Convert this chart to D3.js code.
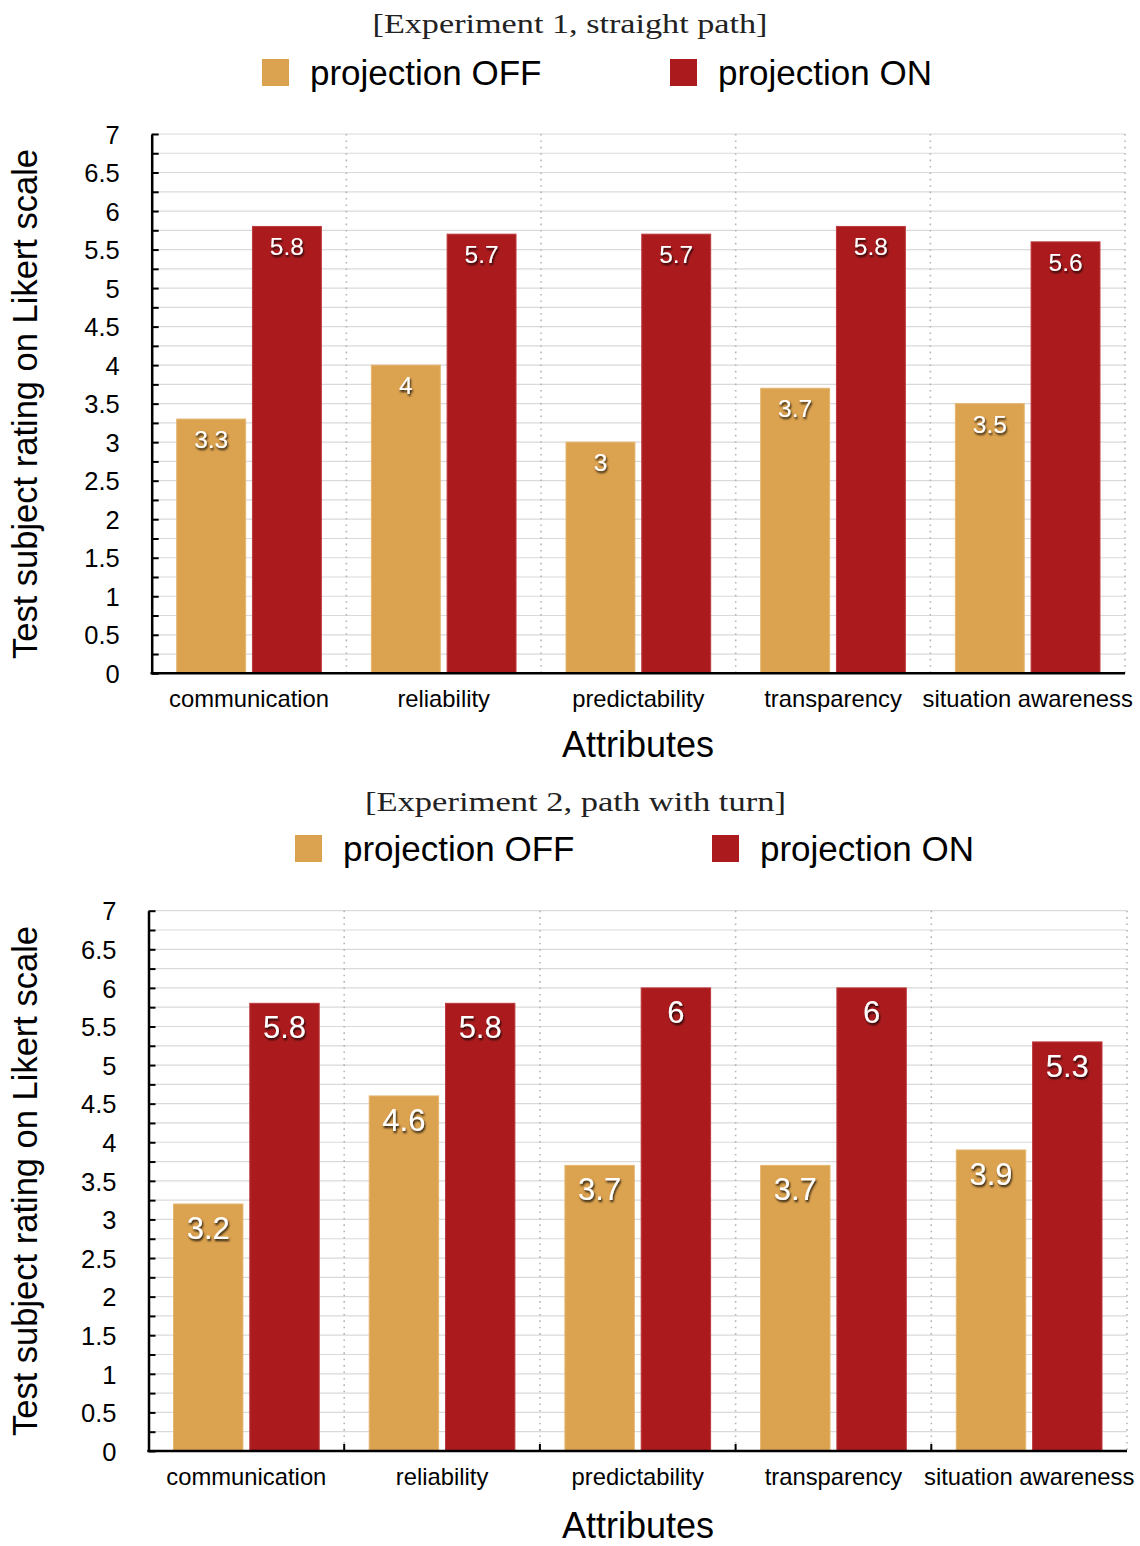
<!DOCTYPE html>
<html>
<head>
<meta charset="utf-8">
<script src="https://cdn.jsdelivr.net/npm/d3@7"></script>
<style>
  html, body { margin: 0; padding: 0; background: #fff; }
  svg { display: block; }
  .sans { font-family: "Liberation Sans", Arial, Helvetica, sans-serif; }
  .serif { font-family: "Liberation Serif", "Times New Roman", serif; }
</style>
</head>
<body>
<script>
// Attribute ratings (Likert scale) for the two experiments
const categories = ["communication", "reliability", "predictability", "transparency", "situation awareness"];
const seriesNames = ["projection OFF", "projection ON"];
const exp1Off = [3.3, 4, 3, 3.7, 3.5];
const exp1On  = [5.8, 5.7, 5.7, 5.8, 5.6];
const exp2Off = [3.2, 4.6, 3.7, 3.7, 3.9];
const exp2On  = [5.8, 5.8, 6, 6, 5.3];
const yTickLabels = [0, 0.5, 1, 1.5, 2, 2.5, 3, 3.5, 4, 4.5, 5, 5.5, 6, 6.5, 7];
const yMinorTicks = d3.range(0, 29).map(i => i * 0.25);
const titles = ["[Experiment 1, straight path]", "[Experiment 2, path with turn]"];
const xTitle = "Attributes";
const yTitle = "Test subject rating on Likert scale";

const colors = { "projection OFF": "#DBA24F", "projection ON": "#AB1B1E" };
const strokes = { "projection OFF": "#E4B670", "projection ON": "#BC3A3D" };

const W = 1140, H = 1546;
const svg = d3.select("body").append("svg").attr("width", W).attr("height", H);

const defs = svg.append("defs");
const f = defs.append("filter").attr("id", "labelShadow")
  .attr("x", "-30%").attr("y", "-30%").attr("width", "160%").attr("height", "160%");
f.append("feDropShadow").attr("dx", 1).attr("dy", 2).attr("stdDeviation", 1.2)
  .attr("flood-color", "#000").attr("flood-opacity", 0.85);

// Layout of each panel
const panels = [
  { title: titles[0], off: exp1Off, on: exp1On,
    titleX: 570, titleW: 395, titleY: 33, legendY: 59, legendX: [262, 670],
    left: 151.7, right: 1125, top: 134, bottom: 673.3,
    labelSize: 24.5, labelOffset: 29, sepTicks: false,
    yTitleY: 404, catY: 707, xTitleY: 757 },
  { title: titles[1], off: exp2Off, on: exp2On,
    titleX: 575.5, titleW: 421, titleY: 811, legendY: 835, legendX: [295, 712],
    left: 148.5, right: 1127, top: 910.7, bottom: 1451,
    labelSize: 31, labelOffset: 35, sepTicks: true,
    yTitleY: 1181, catY: 1485, xTitleY: 1538 }
];

panels.forEach(p => {
  const g = svg.append("g");

  // Title in a light serif face
  g.append("text").attr("class", "serif")
    .attr("x", p.titleX)
    .attr("y", p.titleY)
    .attr("text-anchor", "middle")
    .attr("font-size", 26.5)
    .attr("textLength", p.titleW)
    .attr("lengthAdjust", "spacingAndGlyphs")
    .attr("fill", "#222")
    .text(p.title);

  // Legend
  seriesNames.forEach((s, i) => {
    g.append("rect").attr("x", p.legendX[i]).attr("y", p.legendY)
      .attr("width", 27).attr("height", 27).attr("fill", colors[s]);
    g.append("text").attr("class", "sans")
      .attr("x", p.legendX[i] + 48).attr("y", p.legendY + 26)
      .attr("font-size", 35).attr("fill", "#000").text(s);
  });

  const y = d3.scaleLinear().domain([0, 7]).range([p.bottom, p.top]);
  const x0 = d3.scaleBand().domain(categories).range([p.left, p.right]).padding(0);
  const bw = x0.bandwidth();
  const x1 = d3.scaleBand().domain(seriesNames).range([25, bw - 25]).paddingInner(0.09).paddingOuter(0);

  // Horizontal grid
  g.append("g").selectAll("line").data(yMinorTicks.filter(v => v > 0)).join("line")
    .attr("x1", p.left).attr("x2", p.right)
    .attr("y1", d => y(d)).attr("y2", d => y(d))
    .attr("stroke", "#dadada").attr("stroke-width", 1.2);

  // Dotted category separators
  const seps = categories.map(c => x0(c) + bw);
  g.append("g").selectAll("line").data(seps).join("line")
    .attr("x1", d => d).attr("x2", d => d)
    .attr("y1", p.top).attr("y2", p.bottom)
    .attr("stroke", "#b5b5b5").attr("stroke-width", 1.6)
    .attr("stroke-dasharray", "1.6,4.8");

  // Bars
  const data = categories.flatMap((c, i) => [
    { c, s: seriesNames[0], v: p.off[i] },
    { c, s: seriesNames[1], v: p.on[i] }
  ]);
  g.append("g").selectAll("rect").data(data).join("rect")
    .attr("x", d => x0(d.c) + x1(d.s))
    .attr("y", d => y(d.v))
    .attr("width", x1.bandwidth())
    .attr("height", d => y(0) - y(d.v))
    .attr("fill", d => colors[d.s])
    .attr("stroke", d => strokes[d.s]).attr("stroke-width", 1);

  // Value labels
  g.append("g").selectAll("text").data(data).join("text")
    .attr("class", "sans")
    .attr("x", d => x0(d.c) + x1(d.s) + x1.bandwidth() / 2)
    .attr("y", d => y(d.v) + p.labelOffset)
    .attr("text-anchor", "middle")
    .attr("font-size", p.labelSize)
    .attr("fill", "#fff")
    .attr("filter", "url(#labelShadow)")
    .text(d => String(d.v));

  // Y axis: ticks point into the plot every 0.25, labels every 0.5
  const yAxis = d3.axisLeft(y)
    .tickValues(yMinorTicks)
    .tickSizeInner(-7).tickSizeOuter(0)
    .tickPadding(32)
    .tickFormat(d => yTickLabels.includes(d) ? String(d) : "");
  const ya = g.append("g").attr("transform", `translate(${p.left},0)`).call(yAxis);
  ya.select(".domain").attr("stroke", "#000").attr("stroke-width", 2.5);
  ya.selectAll(".tick line").attr("stroke", "#000").attr("stroke-width", 2);
  ya.selectAll(".tick text").attr("class", "sans").attr("font-size", 25.5)
    .attr("fill", "#000").attr("font-family", null).attr("dy", "0.36em");

  // X axis line
  g.append("line").attr("x1", p.left - 1.2).attr("x2", p.right)
    .attr("y1", p.bottom).attr("y2", p.bottom)
    .attr("stroke", "#000").attr("stroke-width", 2.5);
  if (p.sepTicks) {
    g.append("g").selectAll("line").data(seps.slice(0, -1)).join("line")
      .attr("x1", d => d).attr("x2", d => d)
      .attr("y1", p.bottom).attr("y2", p.bottom - 7)
      .attr("stroke", "#000").attr("stroke-width", 2);
  }

  // Category labels
  g.append("g").selectAll("text").data(categories).join("text")
    .attr("class", "sans")
    .attr("x", d => x0(d) + bw / 2)
    .attr("y", p.catY)
    .attr("text-anchor", "middle")
    .attr("font-size", 23.8)
    .attr("fill", "#000")
    .text(d => d);

  // Axis titles
  g.append("text").attr("class", "sans")
    .attr("x", 638).attr("y", p.xTitleY)
    .attr("text-anchor", "middle").attr("font-size", 36)
    .attr("fill", "#000").text(xTitle);
  g.append("text").attr("class", "sans")
    .attr("transform", `translate(37,${p.yTitleY}) rotate(-90)`)
    .attr("text-anchor", "middle").attr("font-size", 34.5)
    .attr("fill", "#000").text(yTitle);
});
</script>
</body>
</html>
